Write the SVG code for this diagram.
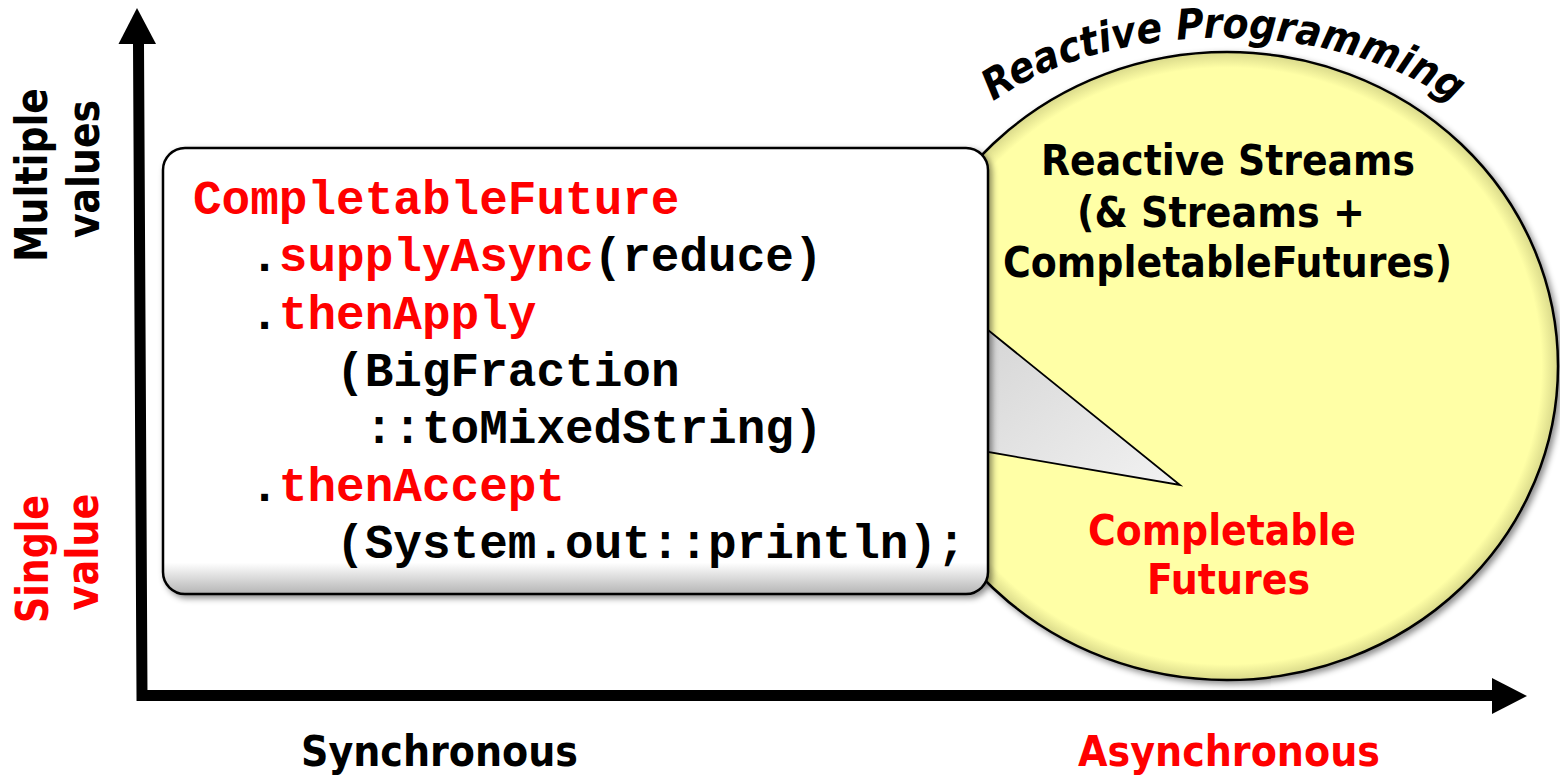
<svg xmlns="http://www.w3.org/2000/svg" width="1560" height="777" viewBox="0 0 1560 777">
<defs>
<style>
.lbl{font-family:"DejaVu Sans","Verdana",sans-serif;font-weight:bold;font-size:43px;font-stretch:condensed}
.red{fill:#FF0000}
.blk{fill:#000000}
.code{font-family:"Liberation Mono","Courier New",monospace;font-weight:bold;font-size:47.7px;fill:#000}
.arc{font-family:"DejaVu Sans","Verdana",sans-serif;font-weight:bold;font-style:italic;font-size:42px;fill:#000}
</style>
<filter id="shadow" x="-10%" y="-10%" width="130%" height="130%">
<feDropShadow dx="3" dy="3" stdDeviation="3" flood-color="#000" flood-opacity="0.45"/>
</filter>
<linearGradient id="boxFill" x1="0" y1="0" x2="0" y2="1">
<stop offset="0" stop-color="#ffffff"/>
<stop offset="0.93" stop-color="#ffffff"/>
<stop offset="1" stop-color="#b4b4b4"/>
</linearGradient>
<linearGradient id="ptrFill" x1="0" y1="0" x2="1" y2="1">
<stop offset="0" stop-color="#d6d6d6"/>
<stop offset="1" stop-color="#f2f2f2"/>
</linearGradient>
<radialGradient id="ellFill" cx="0.5" cy="0.5" r="0.5">
<stop offset="0" stop-color="#FFFFA6"/>
<stop offset="0.95" stop-color="#FFFFA6"/>
<stop offset="1" stop-color="#d9d98a"/>
</radialGradient>
<path id="rpArc" d="M962,128 A300,180 0 0 1 1482,128"/>
</defs>

<rect x="0" y="0" width="1560" height="777" fill="#ffffff"/>

<g id="reactive-circle">
<ellipse cx="1227" cy="366" rx="331" ry="314" fill="url(#ellFill)" stroke="#000" stroke-width="2.5" filter="url(#shadow)"/>
<text class="lbl blk" x="1228" y="175" text-anchor="middle" textLength="374" lengthAdjust="spacingAndGlyphs">Reactive Streams</text>
<text class="lbl blk" x="1221" y="227" text-anchor="middle" textLength="288" lengthAdjust="spacingAndGlyphs">(&amp; Streams +</text>
<text class="lbl blk" x="1227.5" y="277" text-anchor="middle" textLength="449" lengthAdjust="spacingAndGlyphs">CompletableFutures)</text>
<text class="lbl red" x="1222" y="545" text-anchor="middle" textLength="268" lengthAdjust="spacingAndGlyphs">Completable</text>
<text class="lbl red" x="1228.5" y="594" text-anchor="middle" textLength="163" lengthAdjust="spacingAndGlyphs">Futures</text>
</g>

<g id="reactive-programming-label">
<text class="arc"><textPath href="#rpArc" startOffset="41" textLength="485" lengthAdjust="spacingAndGlyphs">Reactive Programming</textPath></text>
</g>

<g id="code-box">
<polygon points="988,330 1180,485 988,452" fill="url(#ptrFill)" stroke="#000" stroke-width="1.8" stroke-linejoin="miter"/>
<rect x="163" y="148" width="825" height="446" rx="22" ry="22" fill="url(#boxFill)" stroke="#000" stroke-width="2.5" filter="url(#shadow)"/>
<text class="code" x="193" y="214"><tspan class="red">CompletableFuture</tspan></text>
<text class="code" x="250.2" y="271">.<tspan class="red">supplyAsync</tspan>(reduce)</text>
<text class="code" x="250.2" y="329">.<tspan class="red">thenApply</tspan></text>
<text class="code" x="336.1" y="386">(BigFraction</text>
<text class="code" x="364.7" y="443">::toMixedString)</text>
<text class="code" x="250.2" y="501">.<tspan class="red">thenAccept</tspan></text>
<text class="code" x="336.1" y="558">(System.out::println);</text>
</g>

<g id="connectors">
<path d="M138.5,44 L142,695.5 L1494,695.5" fill="none" stroke="#000" stroke-width="11" stroke-linejoin="miter"/>
<polygon points="137,8 118.5,44 156,44" fill="#000"/>
<polygon points="1527,696 1492,678 1492,714" fill="#000"/>
</g>

<g id="axis-labels">
<text class="lbl blk" transform="translate(47,175) rotate(-90)" text-anchor="middle" textLength="174" lengthAdjust="spacingAndGlyphs" style="font-size:44px">Multiple</text>
<text class="lbl blk" transform="translate(99,169) rotate(-90)" text-anchor="middle" textLength="138" lengthAdjust="spacingAndGlyphs" style="font-size:44px">values</text>
<text class="lbl red" transform="translate(48,559) rotate(-90)" text-anchor="middle" textLength="128" lengthAdjust="spacingAndGlyphs" style="font-size:44px">Single</text>
<text class="lbl red" transform="translate(98,552) rotate(-90)" text-anchor="middle" textLength="117" lengthAdjust="spacingAndGlyphs" style="font-size:44px">value</text>
<text class="lbl blk" x="439.5" y="766" text-anchor="middle" textLength="277" lengthAdjust="spacingAndGlyphs">Synchronous</text>
<text class="lbl red" x="1229" y="766" text-anchor="middle" textLength="302" lengthAdjust="spacingAndGlyphs">Asynchronous</text>
</g>
</svg>
